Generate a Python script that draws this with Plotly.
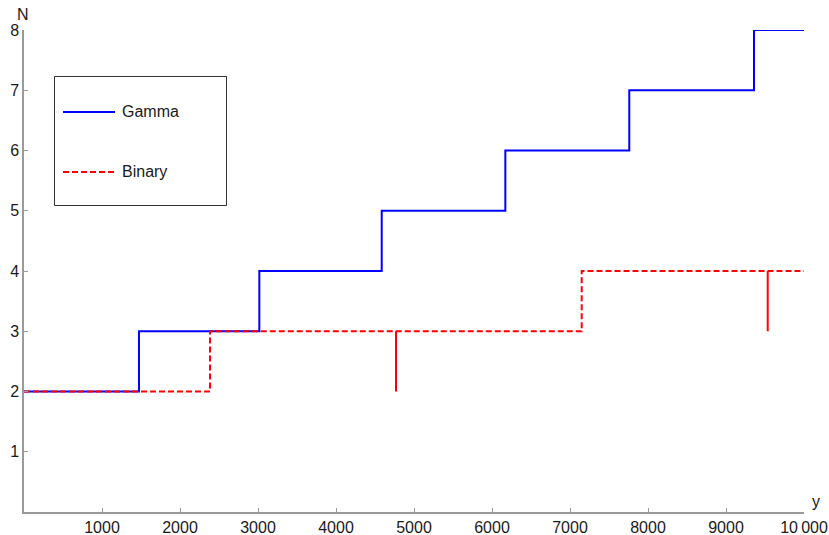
import plotly.graph_objects as go

# ---- data ----
gamma_x = [0, 1474, 3017, 4586, 6171, 7760, 9359, 10000]
gamma_n = [2, 3, 4, 5, 6, 7, 8, 8]

binary_x = [0, 2385, 7150, 10000]
binary_n = [2, 3, 4, 4]

spike_x = [4769, 9535]
spike_low = [2, 3]
spike_high = [3, 4]

x_tickvals = [1000, 2000, 3000, 4000, 5000, 6000, 7000, 8000, 9000, 10000]
x_ticktext = ["1000", "2000", "3000", "4000", "5000", "6000", "7000", "8000", "9000", "10\u2009000"]
y_tickvals = [1, 2, 3, 4, 5, 6, 7, 8]

# ---- layout constants ----
W, H = 829, 535
L, R, T, B = 24, 25, 30, 23
PW, PH = W - L - R, H - T - B
FONT = "Liberation Sans, Arial, sans-serif"
FS = 16
TXT = "#1a1a1a"
AXC = "#9a9a9a"

def px(xp):
    return (xp - L) / PW

def py(yp):
    return (H - B - yp) / PH

fig = go.Figure()

fig.add_trace(go.Scatter(x=gamma_x, y=gamma_n, mode="lines", line_shape="hv",
                         line=dict(color="#0000ff", width=2), name="Gamma",
                         cliponaxis=False, showlegend=False))
fig.add_trace(go.Scatter(x=binary_x, y=binary_n, mode="lines", line_shape="hv",
                         line=dict(color="#ff0000", width=2, dash="6px,3px"), name="Binary",
                         cliponaxis=False, showlegend=False))

sx, sy = [], []
for xv, lo, hi in zip(spike_x, spike_low, spike_high):
    sx += [xv, xv, None]
    sy += [lo, hi, None]
fig.add_trace(go.Scatter(x=sx, y=sy, mode="lines", line=dict(color="#ff0000", width=2),
                         showlegend=False, hoverinfo="skip"))

# manual legend
shapes = [
    dict(type="rect", xref="paper", yref="paper", x0=px(54.5), x1=px(226.5), y0=py(205.5), y1=py(76.5),
         line=dict(color="#333333", width=1), fillcolor="white", layer="below"),
    dict(type="line", xref="paper", yref="paper", x0=px(63), x1=px(115), y0=py(112), y1=py(112),
         line=dict(color="#0000ff", width=2)),
    dict(type="line", xref="paper", yref="paper", x0=px(63), x1=px(115), y0=py(172), y1=py(172),
         line=dict(color="#ff0000", width=2, dash="6px,3px")),
]
annotations = [
    dict(xref="paper", yref="paper", x=px(120), y=py(112), text="Gamma", showarrow=False,
         xanchor="left", yanchor="middle", font=dict(family=FONT, size=FS, color=TXT)),
    dict(xref="paper", yref="paper", x=px(120), y=py(172), text="Binary", showarrow=False,
         xanchor="left", yanchor="middle", font=dict(family=FONT, size=FS, color=TXT)),
    dict(xref="paper", yref="paper", x=px(23), y=py(14.5), text="N", showarrow=False,
         xanchor="center", yanchor="middle", font=dict(family=FONT, size=FS, color=TXT)),
    dict(xref="paper", yref="paper", x=px(816), y=py(501), text="y", showarrow=False,
         xanchor="center", yanchor="middle", font=dict(family=FONT, size=FS, color=TXT)),
]

fig.update_layout(
    width=W, height=H,
    margin=dict(l=L, r=R, t=T, b=B, pad=0),
    paper_bgcolor="white", plot_bgcolor="white",
    font=dict(family=FONT, size=FS, color=TXT),
    shapes=shapes, annotations=annotations,
    showlegend=False,
    xaxis=dict(range=[0, 10000], tickvals=x_tickvals, ticktext=x_ticktext, automargin=False,
               showgrid=False, zeroline=False, showline=True, linecolor=AXC, linewidth=1.5,
               ticks="inside", ticklen=4, tickcolor=AXC, tickwidth=1,
               tickfont=dict(family=FONT, size=FS, color=TXT)),
    yaxis=dict(range=[0, 8], tickvals=y_tickvals, automargin=False,
               showgrid=False, zeroline=False, showline=True, linecolor=AXC, linewidth=1.5,
               ticks="inside", ticklen=4, tickcolor=AXC, tickwidth=1,
               tickfont=dict(family=FONT, size=FS, color=TXT)),
)

fig.write_html("out.html",
               config={"displayModeBar": False},
               post_script="document.body.style.margin='0';document.body.style.overflow='hidden';")
